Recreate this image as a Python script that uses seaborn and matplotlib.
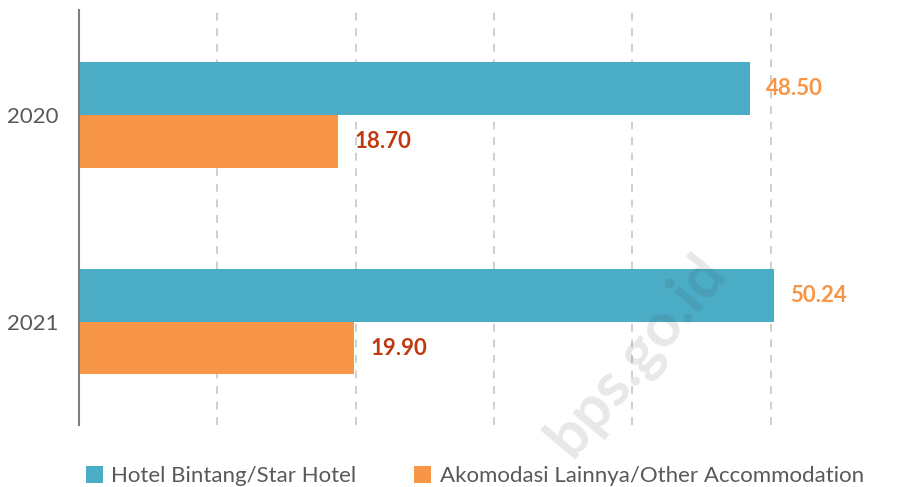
import pandas as pd
import seaborn as sns
import matplotlib.pyplot as plt
from matplotlib.patches import Patch

# ----------------------- Data ----------------------- #
years = ["2020", "2021"]
series_names = ["Hotel Bintang/Star Hotel", "Akomodasi Lainnya/Other Accommodation"]
star_hotel = [48.50, 50.24]
other_accom = [18.70, 19.90]

bar_colors = ["#4BACC6", "#F79646"]
label_colors = ["#F79646", "#C0390F"]

df = pd.DataFrame({
    "year": years * 2,
    "value": star_hotel + other_accom,
    "type": [series_names[0]] * len(years) + [series_names[1]] * len(years),
})

# ----------------------- Plot ----------------------- #
sns.set_style("white")
plt.rcParams["font.family"] = ["Lato", "DejaVu Sans"]

fig = plt.figure(figsize=(9.03, 4.87), dpi=100)
ax = fig.add_axes([79 / 903, 1 - 425 / 487, (895 - 79) / 903, 415 / 487])

sns.barplot(data=df, x="value", y="year", hue="type", orient="h",
            palette=bar_colors, width=0.512, ax=ax, legend=False,
            edgecolor="none", saturation=1)

ax.set_xlim(0, 59)
ax.set_ylim(1.5, -0.505)
ax.set_xticks(range(0, 60, 10))
ax.set_xticklabels([])
ax.tick_params(axis="x", length=0)
ax.tick_params(axis="y", length=0, labelsize=16, labelcolor="#595959", pad=15)
ax.set_xlabel("")
ax.set_ylabel("")
ax.grid(axis="x", linestyle=(0, (4, 4)), color="#CFCFCF", linewidth=1.4)
ax.set_axisbelow(True)

for side in ["top", "right", "bottom"]:
    ax.spines[side].set_visible(False)
ax.spines["left"].set_color("#808080")
ax.spines["left"].set_linewidth(1.5)
ax.spines["left"].set_zorder(5)

for container, col in zip(ax.containers, label_colors):
    ax.bar_label(container, fmt="%.2f", padding=12, color=col,
                 fontsize=16, fontweight="bold")

# watermark
fig.text(0.705, 0.27, "bps.go.id", rotation=50, fontsize=44, fontweight="bold",
         color="#404040", alpha=0.12, ha="center", va="center")

handles = [Patch(facecolor=c, edgecolor="none", label=n) for c, n in zip(bar_colors, series_names)]
fig.legend(handles=handles, loc="center", bbox_to_anchor=(0.526, 0.022), ncol=2,
           frameon=False, fontsize=16, labelcolor="#595959",
           handlelength=0.75, handleheight=0.75, handletextpad=0.4, columnspacing=2.6)

plt.savefig("out.png", dpi=100)
plt.close()
